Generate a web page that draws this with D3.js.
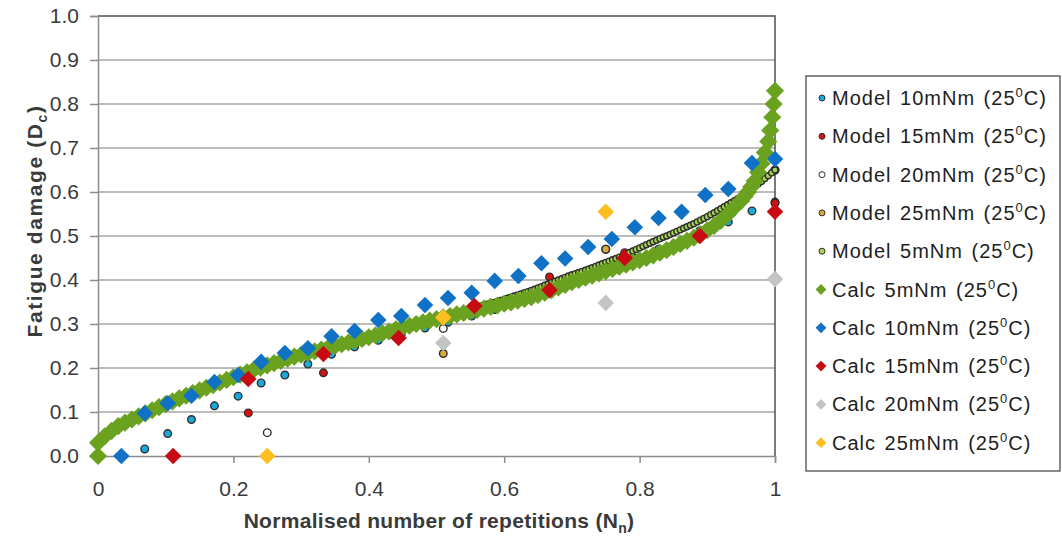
<!DOCTYPE html>
<html>
<head>
<meta charset="utf-8">
<script src="https://cdn.jsdelivr.net/npm/d3@7"></script>
<style>
  body { margin: 0; background: #fff; }
  svg { display: block; font-family: 'Liberation Sans', Arial, sans-serif; }
</style>
</head>
<body>
<div id="chart"></div>
<script>
// ---- data ----
var xTicks = [0, 0.2, 0.4, 0.6, 0.8, 1];
var xTickLabels = ['0', '0.2', '0.4', '0.6', '0.8', '1'];
var yTicks = [0, 0.1, 0.2, 0.3, 0.4, 0.5, 0.6, 0.7, 0.8, 0.9, 1.0];

// Model 10mNm repetition points
var n10 = [0, 0.0345, 0.069, 0.103, 0.138, 0.172, 0.207, 0.241, 0.276, 0.310, 0.345, 0.379,
  0.414, 0.448, 0.483, 0.517, 0.552, 0.586, 0.621, 0.655, 0.690, 0.724, 0.759, 0.793,
  0.828, 0.862, 0.897, 0.931, 0.966, 1.0];
var model10 = [0, 0, 0.016, 0.051, 0.083, 0.114, 0.136, 0.166, 0.184, 0.209, 0.231, 0.248,
  0.263, 0.277, 0.291, 0.304, 0.318, 0.333, 0.350, 0.369, 0.389, 0.408, 0.428, 0.449,
  0.470, 0.488, 0.508, 0.532, 0.557, 0.577];
// Calc 10mNm (same spacing, first point at 0.0345)
var n10Calc = [0.0345, 0.069, 0.103, 0.138, 0.172, 0.207, 0.241, 0.276, 0.310, 0.345, 0.379,
  0.414, 0.448, 0.483, 0.517, 0.552, 0.586, 0.621, 0.655, 0.690, 0.724, 0.759, 0.793,
  0.828, 0.862, 0.897, 0.931, 0.966, 1.0];
var calc10 = [0, 0.097, 0.120, 0.137, 0.168, 0.184, 0.214, 0.234, 0.245, 0.272, 0.284,
  0.309, 0.318, 0.343, 0.359, 0.371, 0.398, 0.409, 0.438, 0.449, 0.475, 0.493, 0.520,
  0.541, 0.555, 0.593, 0.607, 0.666, 0.675];

// 15mNm points
var n15 = [0, 0.111, 0.222, 0.333, 0.444, 0.556, 0.667, 0.778, 0.889, 1.0];
var model15 = [0, 0, 0.098, 0.189, 0.270, 0.335, 0.407, 0.462, 0.512, 0.575];
var n15Calc = [0.111, 0.222, 0.333, 0.444, 0.556, 0.667, 0.778, 0.889, 1.0];
var calc15 = [0, 0.175, 0.232, 0.268, 0.341, 0.377, 0.450, 0.500, 0.555];

// 20mNm and 25mNm points
var nQuarter = [0, 0.25, 0.51, 0.75, 1.0];
var model20 = [0, 0.053, 0.290, 0.470, 0.650];
var model25 = [0, 0, 0.233, 0.470, 0.650];
var n20Calc = [0.51, 0.75, 1.0];
var calc20 = [0.257, 0.348, 0.402];
var n25Calc = [0.25, 0.51, 0.75];
var calc25 = [0, 0.315, 0.555];

// 5mNm model
var n5Model = [0, 0.02, 0.04, 0.06, 0.08, 0.10, 0.12, 0.14, 0.16, 0.18, 0.20, 0.22, 0.24,
  0.26, 0.28, 0.30, 0.32, 0.34, 0.36, 0.38, 0.40, 0.42, 0.44, 0.46, 0.48, 0.50, 0.51, 0.52,
  0.53, 0.54, 0.550, 0.555, 0.560, 0.565, 0.570, 0.575, 0.580, 0.585, 0.590, 0.595, 0.600,
  0.605, 0.610, 0.615, 0.620, 0.625, 0.630, 0.635, 0.640, 0.645, 0.650, 0.655, 0.660, 0.665,
  0.670, 0.675, 0.680, 0.685, 0.690, 0.695, 0.700, 0.705, 0.710, 0.715, 0.720, 0.725, 0.730,
  0.735, 0.740, 0.745, 0.750, 0.755, 0.760, 0.765, 0.770, 0.775, 0.780, 0.785, 0.790, 0.795,
  0.800, 0.805, 0.810, 0.815, 0.820, 0.825, 0.830, 0.835, 0.840, 0.845, 0.850, 0.855, 0.860,
  0.865, 0.870, 0.875, 0.880, 0.885, 0.890, 0.895, 0.900, 0.905, 0.910, 0.915, 0.920, 0.925,
  0.930, 0.935, 0.940, 0.945, 0.950, 0.955, 0.960, 0.965, 0.970, 0.975, 0.980, 0.985, 0.990,
  0.995, 1.0];
var model5 = [0, 0.055, 0.075, 0.090, 0.104, 0.118, 0.131, 0.143, 0.155, 0.167, 0.179, 0.190,
  0.201, 0.211, 0.221, 0.231, 0.240, 0.249, 0.258, 0.266, 0.274, 0.282, 0.291, 0.299, 0.307,
  0.315, 0.319, 0.323, 0.327, 0.331, 0.335, 0.337, 0.339, 0.341, 0.343, 0.345, 0.347, 0.349,
  0.351, 0.3535, 0.356, 0.3585, 0.361, 0.3635, 0.366, 0.3685, 0.371, 0.3735, 0.376, 0.379,
  0.382, 0.385, 0.388, 0.391, 0.394, 0.397, 0.400, 0.403, 0.406, 0.409, 0.412, 0.4145, 0.417,
  0.4195, 0.422, 0.425, 0.428, 0.431, 0.434, 0.437, 0.440, 0.443, 0.446, 0.449, 0.452, 0.4555,
  0.459, 0.4625, 0.466, 0.4695, 0.473, 0.4765, 0.480, 0.4835, 0.487, 0.4905, 0.494, 0.497,
  0.500, 0.5035, 0.507, 0.5105, 0.514, 0.5175, 0.521, 0.5245, 0.528, 0.532, 0.536, 0.540,
  0.544, 0.5485, 0.553, 0.5575, 0.562, 0.5665, 0.571, 0.5755, 0.580, 0.585, 0.590, 0.595,
  0.600, 0.606, 0.612, 0.618, 0.624, 0.6305, 0.637, 0.6435, 0.650];

// 5mNm calculated
var n5Calc = [0, 0, 0.01, 0.02, 0.03, 0.04, 0.05, 0.06, 0.07, 0.08, 0.09, 0.10, 0.11, 0.12,
  0.13, 0.14, 0.15, 0.16, 0.17, 0.18, 0.19, 0.20, 0.21, 0.22, 0.23, 0.24, 0.25, 0.26, 0.27,
  0.28, 0.29, 0.30, 0.31, 0.32, 0.33, 0.34, 0.35, 0.36, 0.37, 0.38, 0.39, 0.40, 0.41, 0.42,
  0.43, 0.44, 0.45, 0.46, 0.47, 0.48, 0.49, 0.50, 0.51, 0.52, 0.53, 0.54, 0.55, 0.56, 0.57,
  0.58, 0.59, 0.60, 0.61, 0.62, 0.63, 0.64, 0.65, 0.66, 0.67, 0.68, 0.69, 0.70, 0.71, 0.72,
  0.73, 0.74, 0.75, 0.76, 0.77, 0.78, 0.79, 0.80, 0.81, 0.82, 0.83, 0.84, 0.85, 0.86, 0.87,
  0.88, 0.89, 0.90, 0.91, 0.92, 0.93, 0.94, 0.95, 0.955, 0.96, 0.965, 0.97, 0.975, 0.98,
  0.985, 0.99, 0.993, 0.996, 0.998, 1.0];
var calc5 = [0, 0.030, 0.045, 0.057, 0.068, 0.076, 0.083, 0.090, 0.097, 0.104, 0.111, 0.118,
  0.124, 0.131, 0.137, 0.143, 0.149, 0.155, 0.161, 0.167, 0.173, 0.179, 0.185, 0.190, 0.196,
  0.201, 0.206, 0.211, 0.216, 0.221, 0.226, 0.230, 0.234, 0.238, 0.242, 0.246, 0.250, 0.254,
  0.258, 0.262, 0.266, 0.270, 0.274, 0.279, 0.283, 0.288, 0.292, 0.296, 0.300, 0.304, 0.308,
  0.311, 0.315, 0.318, 0.322, 0.325, 0.329, 0.332, 0.335, 0.339, 0.342, 0.346, 0.349, 0.353,
  0.357, 0.361, 0.366, 0.371, 0.377, 0.383, 0.389, 0.395, 0.400, 0.405, 0.410, 0.415, 0.420,
  0.425, 0.430, 0.435, 0.440, 0.445, 0.450, 0.456, 0.462, 0.468, 0.475, 0.482, 0.489, 0.496,
  0.504, 0.513, 0.523, 0.535, 0.549, 0.565, 0.580, 0.590, 0.600, 0.612, 0.625, 0.645, 0.665,
  0.690, 0.715, 0.740, 0.770, 0.800, 0.830];

var seriesNames = ['Model 10mNm', 'Model 15mNm', 'Model 20mNm', 'Model 25mNm', 'Model 5mNm',
  'Calc 5mNm', 'Calc 10mNm', 'Calc 15mNm', 'Calc 20mNm', 'Calc 25mNm'];

var WIDTH = 1062, HEIGHT = 541;
var PLOT = { left: 98, right: 775, top: 16, bottom: 456 };
var FONT = "'Liberation Sans', Arial, sans-serif";
var DIAMOND_SIZE = 175;
var BAND_DIAMOND_SIZE = 210;

var series = [
  { name: seriesNames[0], x: n10, y: model10, shape: 'circle', fill: '#1aa9dc', r: 3.8 },
  { name: seriesNames[1], x: n15, y: model15, shape: 'circle', fill: '#d81010', r: 3.8 },
  { name: seriesNames[2], x: nQuarter, y: model20, shape: 'circle', fill: '#ffffff', r: 3.8 },
  { name: seriesNames[3], x: nQuarter, y: model25, shape: 'circle', fill: '#d9aa3c', r: 3.8 },
  { name: seriesNames[4], x: n5Model, y: model5, shape: 'circle', fill: '#a6d651', r: 3 },
  { name: seriesNames[5], x: n5Calc, y: calc5, shape: 'diamond', fill: '#6aa220', size: BAND_DIAMOND_SIZE },
  { name: seriesNames[6], x: n10Calc, y: calc10, shape: 'diamond', fill: '#0f72c6', size: DIAMOND_SIZE },
  { name: seriesNames[7], x: n15Calc, y: calc15, shape: 'diamond', fill: '#c80b12', size: DIAMOND_SIZE },
  { name: seriesNames[8], x: n20Calc, y: calc20, shape: 'diamond', fill: '#c2c5c1', size: DIAMOND_SIZE },
  { name: seriesNames[9], x: n25Calc, y: calc25, shape: 'diamond', fill: '#fdbe1f', size: DIAMOND_SIZE }
];

var svg = d3.select('#chart').append('svg')
  .attr('width', WIDTH)
  .attr('height', HEIGHT);

var xScale = d3.scaleLinear().domain([0, 1]).range([PLOT.left, PLOT.right]);
var yScale = d3.scaleLinear().domain([0, 1]).range([PLOT.bottom, PLOT.top]);

/** gridlines */
svg.append('g').selectAll('line').data(yTicks.slice(1, -1)).enter().append('line')
  .attr('x1', PLOT.left).attr('x2', PLOT.right)
  .attr('y1', function (d) { return yScale(d); })
  .attr('y2', function (d) { return yScale(d); })
  .attr('stroke', '#a6a6a6').attr('stroke-width', 1.5);

/** plot border (top and right) */
svg.append('path')
  .attr('d', 'M' + PLOT.left + ',' + PLOT.top + 'H' + PLOT.right + 'V' + PLOT.bottom)
  .attr('fill', 'none').attr('stroke', '#4a524a').attr('stroke-width', 1.5);

/** axes */
var yAxis = svg.append('g')
  .attr('transform', 'translate(' + PLOT.left + ',0)')
  .call(d3.axisLeft(yScale).tickValues(yTicks).tickFormat(d3.format('.1f')).tickSize(8).tickPadding(11));
var xAxis = svg.append('g')
  .attr('transform', 'translate(0,' + PLOT.bottom + ')')
  .call(d3.axisBottom(xScale).tickValues(xTicks)
    .tickFormat(function (d, i) { return xTickLabels[i]; }).tickSize(7).tickPadding(18));
[yAxis, xAxis].forEach(function (ax) {
  ax.select('.domain').attr('stroke', '#8c8c8c').attr('stroke-width', 1.5);
  ax.selectAll('.tick line').attr('stroke', '#8c8c8c').attr('stroke-width', 1.5);
  ax.selectAll('.tick text').attr('fill', '#3a3a3a').style('font-size', '21px').style('font-family', FONT);
});

/** marks */
series.forEach(function (s) {
  var pts = s.x.map(function (x, i) { return [x, s.y[i]]; });
  var g = svg.append('g').attr('class', 'series');
  if (s.shape === 'circle') {
    g.selectAll('circle').data(pts).enter().append('circle')
      .attr('cx', function (d) { return xScale(d[0]); })
      .attr('cy', function (d) { return yScale(d[1]); })
      .attr('r', s.r)
      .attr('fill', s.fill)
      .attr('stroke', '#2e2e2e').attr('stroke-width', 1.4);
  } else {
    g.selectAll('path').data(pts).enter().append('path')
      .attr('d', d3.symbol().type(d3.symbolDiamond2).size(s.size))
      .attr('transform', function (d) { return 'translate(' + xScale(d[0]) + ',' + yScale(d[1]) + ')'; })
      .attr('fill', s.fill);
  }
});

/** axis titles */
var xTitle = svg.append('text')
  .attr('x', 439).attr('y', 528)
  .attr('text-anchor', 'middle')
  .attr('font-size', 21).attr('font-weight', 'bold').attr('fill', '#3a3a3a')
  .style('letter-spacing', '0.3px');
xTitle.append('tspan').text('Normalised number of repetitions (N');
xTitle.append('tspan').attr('font-size', 14).attr('dy', 5).text('n');
xTitle.append('tspan').attr('dy', -5).text(')');

var yTitle = svg.append('text')
  .attr('transform', 'translate(42,221) rotate(-90)')
  .attr('text-anchor', 'middle')
  .attr('font-size', 21).attr('font-weight', 'bold').attr('fill', '#3a3a3a')
  .style('letter-spacing', '1.6px');
yTitle.append('tspan').text('Fatigue damage (D');
yTitle.append('tspan').attr('font-size', 14).attr('dy', 5).text('c');
yTitle.append('tspan').attr('dy', -5).text(')');

/** legend */
var LEGEND_X = 806, LEGEND_Y = 76, LEGEND_W = 254, LEGEND_H = 395;
var LEGEND_ROW = 38.3, LEGEND_FIRST = 98;
var legend = svg.append('g');
legend.append('rect')
  .attr('x', LEGEND_X).attr('y', LEGEND_Y).attr('width', LEGEND_W).attr('height', LEGEND_H)
  .attr('fill', '#fff').attr('stroke', '#3c3c3c').attr('stroke-width', 1.2);
var item = legend.selectAll('g.item').data(series).enter().append('g')
  .attr('class', 'item')
  .attr('transform', function (d, i) { return 'translate(0,' + (LEGEND_FIRST + i * LEGEND_ROW) + ')'; });
item.filter(function (d) { return d.shape === 'circle'; }).append('circle')
  .attr('cx', 822).attr('cy', 0).attr('r', 3)
  .attr('fill', function (d) { return d.fill; })
  .attr('stroke', '#2e2e2e').attr('stroke-width', 1);
item.filter(function (d) { return d.shape === 'diamond'; }).append('path')
  .attr('d', d3.symbol().type(d3.symbolDiamond2).size(75))
  .attr('transform', 'translate(821,0)')
  .attr('fill', function (d) { return d.fill; });
var label = item.append('text')
  .attr('x', 832).attr('y', 7)
  .attr('font-size', 20).attr('fill', '#1e1e1e')
  .style('letter-spacing', '1px').style('word-spacing', '2px');
label.append('tspan').text(function (d) { return d.name + ' (25'; });
label.append('tspan').attr('font-size', 13).attr('dy', -8).text('0');
label.append('tspan').attr('dy', 8).text('C)');
</script>
</body>
</html>
